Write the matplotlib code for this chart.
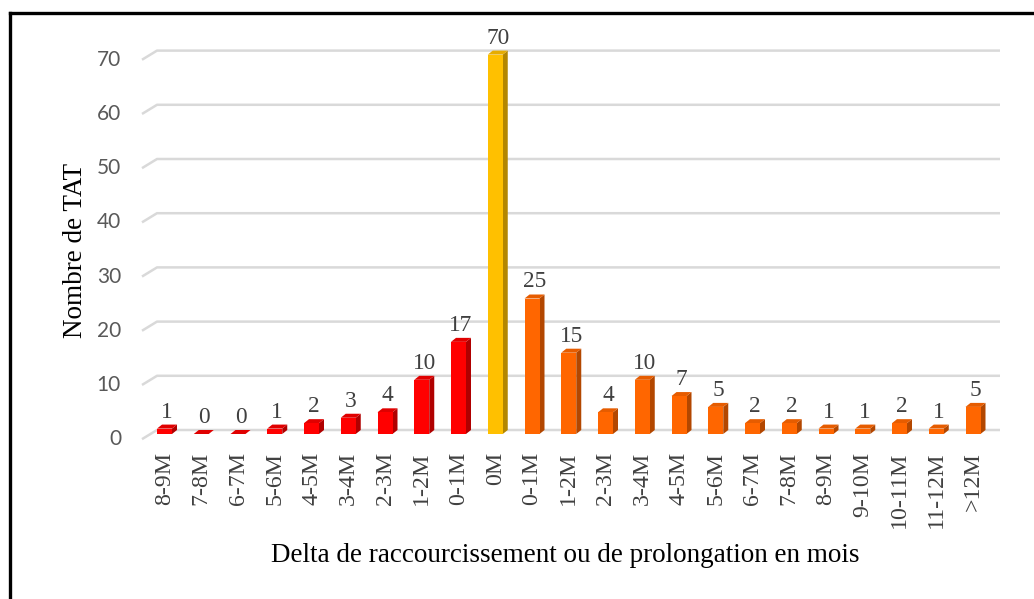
import matplotlib
matplotlib.use("Agg")
import matplotlib.pyplot as plt
from matplotlib.patches import Polygon, Rectangle
from matplotlib.lines import Line2D

categories = ["8-9M", "7-8M", "6-7M", "5-6M", "4-5M", "3-4M", "2-3M", "1-2M", "0-1M",
              "0M", "0-1M", "1-2M", "2-3M", "3-4M", "4-5M", "5-6M", "6-7M", "7-8M",
              "8-9M", "9-10M", "10-11M", "11-12M", ">12M"]
values = [1, 0, 0, 1, 2, 3, 4, 10, 17, 70, 25, 15, 4, 10, 7, 5, 2, 2, 1, 1, 2, 1, 5]
groups = ["short"] * 9 + ["zero"] + ["long"] * 13
y_ticks = [0, 10, 20, 30, 40, 50, 60, 70]

colors = {
    "short": ("#FF0000", "#E00000", "#B00000"),
    "zero": ("#FFC000", "#E6AC00", "#B38600"),
    "long": ("#FF6600", "#E65C00", "#B34700"),
}

W, H = 1034, 599
fig = plt.figure(figsize=(W / 100, H / 100), dpi=100)
ax = fig.add_axes([0, 0, 1, 1])
ax.axis("off")

# pixel mapping
px0, pxs = 164.5, 36.75   # x pixel of category 0, pixels per category
py0, pys = 434.0, 5.42    # y pixel of value 0 (front), pixels per unit
ax.set_xlim((0 - px0) / pxs, (W - px0) / pxs)
ax.set_ylim((py0 - H) / pys, (py0 - 0) / pys)

def X(px):
    return (px - px0) / pxs

def Y(py):
    return (py0 - py) / pys

bw = 15 / pxs
dx = 5 / pxs
dy = 4 / pys

# gridlines (back wall with left diagonal)
gx0, gx1, gx2 = X(142), X(157), X(1000)
for v in y_ticks:
    ax.plot([gx0, gx1, gx2], [v - 0.95, v + dy, v + dy], color="#D9D9D9", lw=1.8,
            solid_capstyle="butt", zorder=1)
    ax.text(X(121), v - 0.95, str(v), ha="right", va="center", fontsize=15,
            family="Lato", color="#595959")

# bars
for i, (v, g) in enumerate(zip(values, groups)):
    front, top, side = colors[g]
    l, r = i - bw / 2, i + bw / 2
    ax.add_patch(Polygon([(r, 0), (r + dx, dy), (r + dx, v + dy), (r, v)],
                         closed=True, facecolor=side, edgecolor="none", zorder=3))
    ax.add_patch(Polygon([(l, v), (r, v), (r + dx, v + dy), (l + dx, v + dy)],
                         closed=True, facecolor=top, edgecolor="none", zorder=3))
    ax.add_patch(Rectangle((l, 0), bw, v, facecolor=front, edgecolor="none", zorder=4))
    ax.text(i + dx / 2, v + dy + 1.3, str(v), ha="center", va="baseline",
            fontsize=16.8, family="Liberation Serif", color="#404040", zorder=5)
    ax.text(i, Y(452), categories[i], rotation=90, ha="center", va="top",
            fontsize=17.2, family="Liberation Serif", color="#404040")

ax.text(X(565), Y(556), "Delta de raccourcissement ou de prolongation en mois",
        ha="center", va="center", fontsize=19.5, family="Liberation Serif", color="#000000")
ax.text(X(75), Y(250), "Nombre de TAT", rotation=90, ha="center", va="center",
        fontsize=19.5, family="Liberation Serif", color="#000000")

# outer frame (left and top edges visible)
fig.add_artist(Line2D([9.5 / W, 9.5 / W], [0, 1 - 13 / H], color="black", lw=2.4,
                      transform=fig.transFigure, solid_capstyle="projecting"))
fig.add_artist(Line2D([9.5 / W, 1], [1 - 13 / H, 1 - 13 / H], color="black", lw=2.4,
                      transform=fig.transFigure, solid_capstyle="projecting"))

fig.savefig("out.png", dpi=100, facecolor="white")
